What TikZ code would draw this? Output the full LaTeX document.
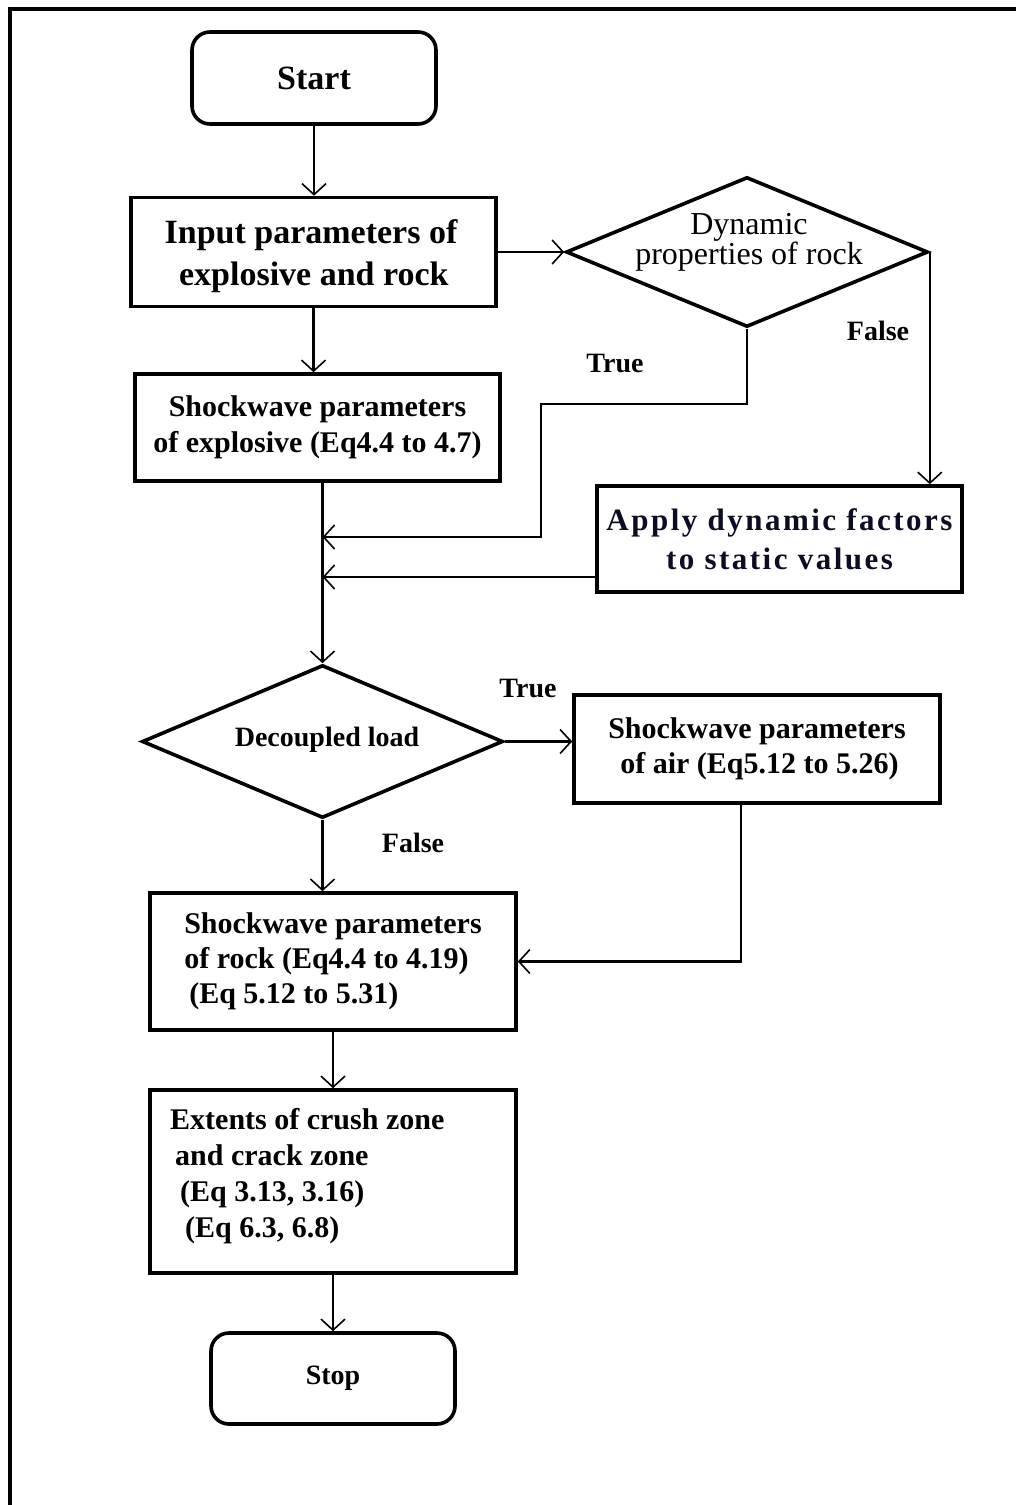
\documentclass[tikz,border=0pt]{standalone}
\usepackage{fontspec}
\setmainfont{Liberation Serif}
\usetikzlibrary{shapes.geometric,arrows.meta}
\definecolor{applyink}{HTML}{0C0C22}
\newcommand\mytightlines{\lineskiplimit=-40pt\relax}
\begin{document}
\begin{tikzpicture}[x=1pt,y=-1pt,
  boxbase/.style={draw,line width=3.6pt,inner sep=0pt,align=center},
  procbox/.style={boxbase,rectangle},
  termbox/.style={boxbase,rectangle,rounded corners=18pt},
  decbox/.style={draw,line width=3.6pt,diamond,inner sep=0pt,align=center},
  conn/.style={line width=2.4pt},
  arr/.style={conn,-{Straight Barb[length=11pt,width=24pt,line width=1.6pt]}},
  fbig/.style={font=\bfseries\fontsize{34}{42}\selectfont},
  fmid/.style={font=\bfseries\fontsize{30}{36}\selectfont},
  flab/.style={font=\bfseries\fontsize{28}{32}\selectfont},
  line join=miter]
\useasboundingbox (0,0) rectangle (1016,1505);
\fill[white] (0,0) rectangle (1016,1505);
% frame (top and left edges visible)
\coordinate (fr1) at (1016,9);
\coordinate (fr2) at (10,9);
\coordinate (fr3) at (10,1505);
\draw[line width=3.4pt] (fr1) -- (fr2) -- (fr3);

% nodes
\node[termbox,fbig,minimum width=244pt,minimum height=92pt] (st) at (314,78) {Start};
\node[procbox,minimum width=365pt,minimum height=109pt] (in) at (313.5,252) {};
\node[fbig,align=center,inner sep=0pt] (int) at (311,256) {Input parameters of\\ \,explosive and rock};
\node[decbox,minimum width=362pt,minimum height=150pt] (d1) at (747,252) {};
\node[font=\fontsize{32}{30}\selectfont\mytightlines,align=center,inner sep=0pt] (d1t) at (749,242) {Dynamic\\properties of rock};
\node[procbox,fmid,minimum width=365pt,minimum height=107pt] (ex) at (317.5,427.5) {Shockwave parameters\\of explosive (Eq4.4 to 4.7)};
\node[procbox,minimum width=365pt,minimum height=106pt,text=applyink,
      font=\bfseries\fontsize{31}{39}\selectfont\addfontfeature{LetterSpace=8}] (ap) at (779.5,539) {Apply dynamic factors\\ to static values};
\node[decbox,minimum width=361pt,minimum height=153pt] (d2) at (322.5,741.5) {};
\node[flab,inner sep=0pt] (d2t) at (327,740) {Decoupled load};
\node[procbox,font=\bfseries\fontsize{30}{35}\selectfont,minimum width=366pt,minimum height=108pt] (air) at (757,749) {Shockwave parameters\\ \,of air (Eq5.12 to 5.26)};
\node[procbox,font=\bfseries\fontsize{30}{35}\selectfont,align=left,minimum width=366pt,minimum height=137pt] (rk) at (333,961.5) {Shockwave parameters\\of rock (Eq4.4 to 4.19)\\ \,(Eq 5.12 to 5.31)};
\node[procbox,minimum width=366pt,minimum height=183pt] (ext) at (333,1181.5) {};
\node[font=\bfseries\fontsize{30}{36}\selectfont,align=left,inner sep=0pt,anchor=west] (extt) at (170,1176) {Extents of crush zone\\ \,and crack zone\\ \,\,(Eq 3.13, 3.16)\\ \,\,\,(Eq 6.3, 6.8)};
\node[termbox,font=\bfseries\fontsize{28}{32}\selectfont,minimum width=244pt,minimum height=91pt] (sp) at (333,1378.5) {Stop};

% labels
\node[flab] (lt1) at (615,363) {True};
\node[flab] (lf1) at (878,331) {False};
\node[flab] (lt2) at (528,688) {True};
\node[flab] (lf2) at (413,843) {False};

% merge points
\coordinate (m1) at (d2.north |- 0,537);
\coordinate (m2) at (d2.north |- 0,577);
\coordinate (tb) at (541,404);

% connectors
\draw[arr] (st.south) -- (in.north -| st.south);
\draw[arr] (in.east) -- (d1.west);
\draw[arr] (in.south) -- (in.south |- ex.north);
\draw[arr] (d1.east) -- (d1.east |- ap.north);
\draw[arr] (d1.south) |- (tb) |- (m1);
\draw[arr] (ap.west |- m2) -- (m2);
\draw[arr] (d2.north |- ex.south) -- (d2.north);
\draw[arr] (d2.east) -- (air.west |- d2.east);
\draw[arr] (d2.south) -- (d2.south |- rk.north);
\draw[arr] ([xshift=-16pt]air.south) |- (rk.east);
\draw[arr] (rk.south) -- (ext.north);
\draw[arr] (ext.south) -- (sp.north);
\end{tikzpicture}
\end{document}
